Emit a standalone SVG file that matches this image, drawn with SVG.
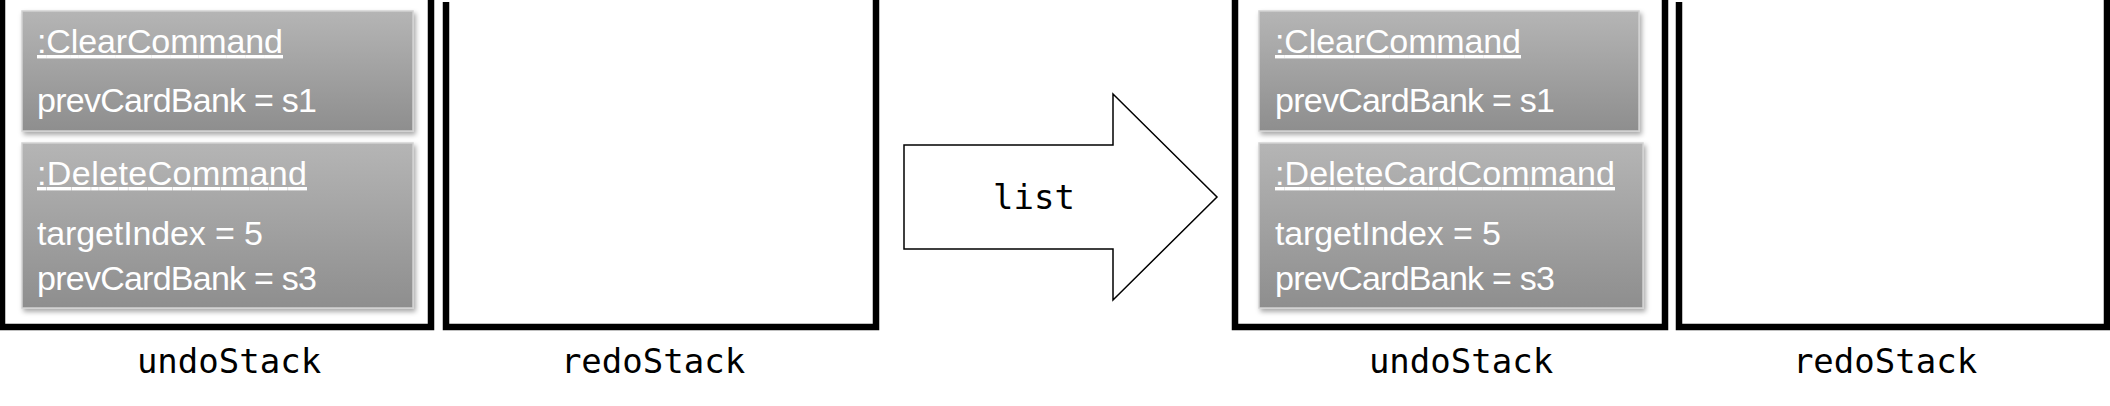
<svg xmlns="http://www.w3.org/2000/svg" width="2110" height="406" viewBox="0 0 2110 406">
  <defs>
    <linearGradient id="cardGrad" x1="0" y1="0" x2="0" y2="1">
      <stop offset="0" stop-color="#b5b5b5"/>
      <stop offset="1" stop-color="#8e8e8e"/>
    </linearGradient>
    <filter id="shadow" x="-10%" y="-10%" width="125%" height="130%">
      <feDropShadow dx="2" dy="3" stdDeviation="2.5" flood-color="#000" flood-opacity="0.35"/>
    </filter>
  </defs>
  <style>
    .stack { fill: none; stroke: #000; stroke-width: 6.5; }
    .card { fill: url(#cardGrad); stroke: #d2d2d2; stroke-width: 1.5; filter: url(#shadow); }
    .ct { font-family: "Liberation Sans", Arial, sans-serif; font-size: 34px; fill: #ffffff; }
    .title { text-decoration: underline; }
    .mono { font-family: "DejaVu Sans Mono", "Liberation Mono", monospace; font-size: 34px; fill: #000; text-anchor: middle; }
    .arrow { fill: #fff; stroke: #000; stroke-width: 1.5; stroke-linejoin: miter; }
  </style>

  <rect width="2110" height="406" fill="#fff"/>

  <g id="undoStack1">
    <path class="stack" d="M2,0 V327 H431 V0"/>
    <text class="mono" x="229" y="373">undoStack</text>
  </g>
  <g id="clearCommand1">
    <rect class="card" x="22" y="11" width="391" height="120"/>
    <text class="ct title" x="37" y="53" textLength="246">:ClearCommand</text>
    <text class="ct" x="37" y="112" textLength="280">prevCardBank = s1</text>
  </g>
  <g id="deleteCommand1">
    <rect class="card" x="22" y="143" width="391" height="165"/>
    <text class="ct title" x="37" y="185" textLength="270">:DeleteCommand</text>
    <text class="ct" x="37" y="245" textLength="226">targetIndex = 5</text>
    <text class="ct" x="37" y="290" textLength="280">prevCardBank = s3</text>
  </g>

  <g id="redoStack1">
    <path class="stack" d="M446,2 V327 H876 V0"/>
    <text class="mono" x="653" y="373">redoStack</text>
  </g>

  <g id="connectors">
    <polygon class="arrow" points="904,145 1113,145 1113,94 1217,197 1113,300 1113,249 904,249"/>
    <text class="mono" x="1034" y="209">list</text>
  </g>

  <g id="undoStack2">
    <path class="stack" d="M1235,0 V327 H1665 V0"/>
    <text class="mono" x="1461" y="373">undoStack</text>
  </g>
  <g id="clearCommand2">
    <rect class="card" x="1259" y="11" width="380" height="120"/>
    <text class="ct title" x="1275" y="53" textLength="246">:ClearCommand</text>
    <text class="ct" x="1275" y="112" textLength="280">prevCardBank = s1</text>
  </g>
  <g id="deleteCardCommand2">
    <rect class="card" x="1259" y="143" width="384" height="165"/>
    <text class="ct title" x="1275" y="185" textLength="340">:DeleteCardCommand</text>
    <text class="ct" x="1275" y="245" textLength="226">targetIndex = 5</text>
    <text class="ct" x="1275" y="290" textLength="280">prevCardBank = s3</text>
  </g>

  <g id="redoStack2">
    <path class="stack" d="M1679,2 V327 H2107 V0"/>
    <text class="mono" x="1885" y="373">redoStack</text>
  </g>
</svg>
